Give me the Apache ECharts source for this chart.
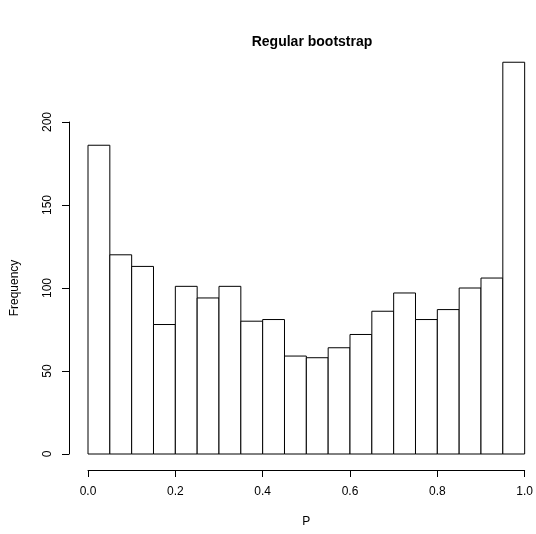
<!DOCTYPE html>
<html>
<head>
<meta charset="utf-8">
<script src="https://cdn.jsdelivr.net/npm/echarts@6/dist/echarts.min.js"></script>
<style>
  html, body { margin: 0; padding: 0; background: #fff; }
  #chart { width: 536px; height: 534px; }
</style>
</head>
<body>
<div id="chart"></div>
<script>
// histogram bins (left / right edges) and counts
const binStart = [0.00, 0.05, 0.10, 0.15, 0.20, 0.25, 0.30, 0.35, 0.40, 0.45,
                  0.50, 0.55, 0.60, 0.65, 0.70, 0.75, 0.80, 0.85, 0.90, 0.95]
const binEnd = [0.05, 0.10, 0.15, 0.20, 0.25, 0.30, 0.35, 0.40, 0.45, 0.50,
                0.55, 0.60, 0.65, 0.70, 0.75, 0.80, 0.85, 0.90, 0.95, 1.00]
const counts = [186, 120, 113, 78, 101, 94, 101, 80, 81, 59,
                58, 64, 72, 86, 97, 81, 87, 100, 106, 236]
const xTicks = [0, 0.2, 0.4, 0.6, 0.8, 1.0]
const yTicks = [0, 50, 100, 150, 200]

const font = 'Liberation Sans, Arial, Helvetica, sans-serif'
const chart = echarts.init(document.getElementById('chart'))

const data = counts.map((c, i) => [binStart[i], binEnd[i], c])

chart.setOption({
    animation: false,
    backgroundColor: '#fff',
    title: {
        text: 'Regular bootstrap',
        left: 307,
        top: 30,
        textAlign: 'center',
        textStyle: { fontFamily: font, fontSize: 14, fontWeight: 'bold', color: '#000' }
    },
    grid: { left: 88, right: 10, top: 122, bottom: 80 },
    xAxis: {
        type: 'value',
        min: xTicks[0],
        max: xTicks[xTicks.length - 1],
        interval: 0.2,
        offset: 16,
        name: 'P',
        nameLocation: 'middle',
        nameGap: 46,
        nameTextStyle: { fontFamily: font, fontSize: 12, color: '#000' },
        axisLine: { onZero: false, lineStyle: { color: '#000', width: 1 } },
        axisTick: { length: 7, lineStyle: { color: '#000' } },
        axisLabel: {
            margin: 16,
            fontFamily: font, fontSize: 12, color: '#000',
            formatter: v => v.toFixed(1)
        },
        splitLine: { show: false }
    },
    yAxis: {
        type: 'value',
        min: yTicks[0],
        max: yTicks[yTicks.length - 1],
        interval: 50,
        offset: 19,
        name: 'Frequency',
        nameLocation: 'middle',
        nameGap: 48,
        nameTextStyle: { fontFamily: font, fontSize: 12, color: '#000' },
        axisLine: { show: true, onZero: false, lineStyle: { color: '#000', width: 1 } },
        axisTick: { show: true, length: 7, lineStyle: { color: '#000' } },
        axisLabel: { rotate: 90, margin: 15, fontFamily: font, fontSize: 12, color: '#000' },
        splitLine: { show: false }
    },
    series: [{
        type: 'custom',
        clip: false,
        data: data,
        encode: { x: [0, 1], y: 2 },
        renderItem: (params, api) => {
            const p0 = api.coord([api.value(0), 0])
            const p1 = api.coord([api.value(1), api.value(2)])
            return {
                type: 'rect',
                shape: { x: p0[0], y: p1[1], width: p1[0] - p0[0], height: p0[1] - p1[1] },
                style: { fill: '#fff', stroke: '#000', lineWidth: 1 }
            }
        }
    }]
})
</script>
</body>
</html>
